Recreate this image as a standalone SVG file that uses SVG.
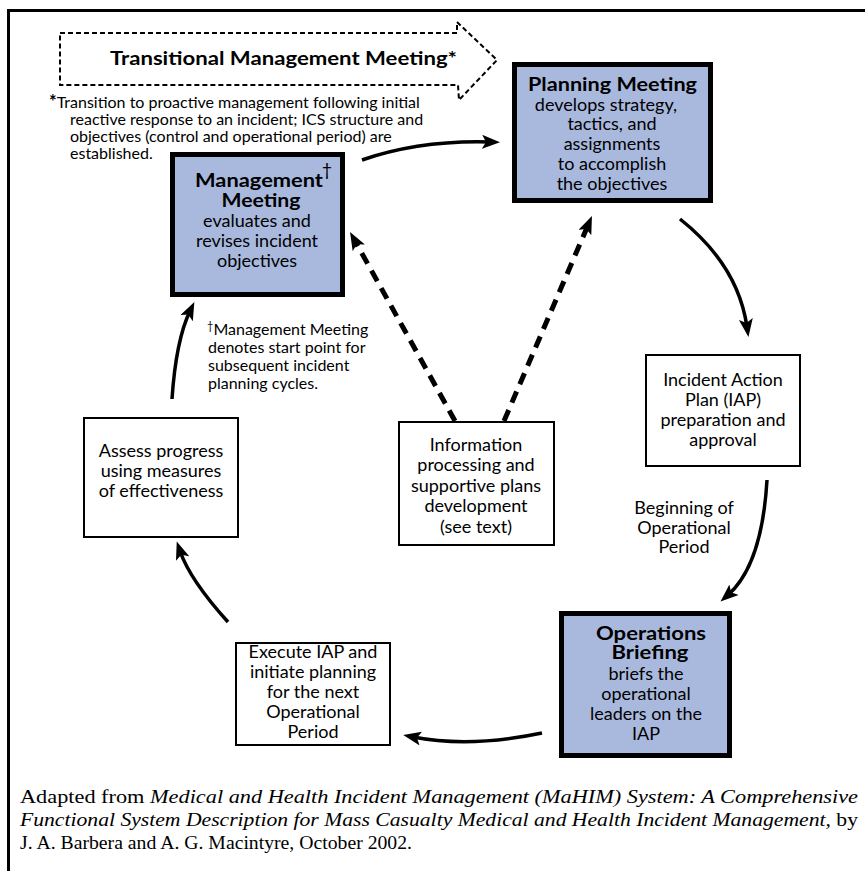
<svg xmlns="http://www.w3.org/2000/svg" width="865" height="871" viewBox="0 0 865 871">
<style>
.t{font-family:Lato,"Open Sans","Liberation Sans",sans-serif;font-size:18px;fill:#000;text-anchor:middle}
.b{font-weight:bold;font-size:19px}
.fn{font-family:Lato,"Open Sans","Liberation Sans",sans-serif;font-size:16px;fill:#000}
.blue{fill:#a9b9dd;stroke:#000;stroke-width:5}
.white{fill:#fff;stroke:#000;stroke-width:2}
.conn{fill:none;stroke:#000;stroke-width:3.5}
.dash{fill:none;stroke:#000;stroke-width:5;stroke-dasharray:12,8}
.cap{font-family:"Liberation Serif","DejaVu Serif",serif;font-size:19.5px;fill:#000}
</style>
<defs>
<marker id="ah" markerUnits="userSpaceOnUse" markerWidth="20" markerHeight="16" refX="8" refY="7" orient="auto">
<path d="M0,0 L18,7 L0,14 L4,7 Z" fill="#000"/>
</marker>
</defs>
<rect width="865" height="871" fill="#fff"/>
<g id="frame">
<line x1="7" y1="10.5" x2="865" y2="10.5" stroke="#000" stroke-width="3"/>
<line x1="8.5" y1="9" x2="8.5" y2="871" stroke="#000" stroke-width="3"/>
</g>
<g id="transitional">
<path d="M60,33 H457 V22 L497,60 L459,100 L458,85 H60 Z" fill="none" stroke="#000" stroke-width="2" stroke-dasharray="5,3"/>
<text class="t b" x="283.5" y="65" font-size="19.5" textLength="347" lengthAdjust="spacingAndGlyphs">Transitional Management Meeting*</text>
<text class="fn" x="49" y="108"><tspan font-weight="bold" font-size="18">*</tspan>Transition to proactive management following initial</text>
<text class="fn" x="70" y="125">reactive response to an incident; ICS structure and</text>
<text class="fn" x="70" y="142">objectives (control and operational period) are</text>
<text class="fn" x="70" y="159">established.</text>
</g>
<g id="connectors">
<path class="conn" d="M362,160 Q420,140 490,142" marker-end="url(#ah)"/>
<path class="conn" d="M680,219 Q738,265 747,327" marker-end="url(#ah)"/>
<path class="conn" d="M767,480 Q762,565 728,595" marker-end="url(#ah)"/>
<path class="conn" d="M542,733 Q470,748 413,737" marker-end="url(#ah)"/>
<path class="conn" d="M228,622 Q190,580 180,551" marker-end="url(#ah)"/>
<path class="conn" d="M172,399 Q176,340 190,311" marker-end="url(#ah)"/>
<path class="dash" d="M455,421 L354.9,240.8" marker-end="url(#ah)"/>
<path class="dash" d="M504,421 L588,225.2" marker-end="url(#ah)"/>
</g>
<g id="management">
<rect class="blue" x="172.5" y="154.5" width="170" height="140"/>
<text class="t b" x="259" y="187" textLength="128" lengthAdjust="spacingAndGlyphs">Management</text>
<text class="t" x="327" y="176" font-size="11">†</text>
<text class="t b" x="261" y="207" textLength="79" lengthAdjust="spacingAndGlyphs">Meeting</text>
<text class="t" x="257" y="227">evaluates and</text>
<text class="t" x="257" y="247">revises incident</text>
<text class="t" x="257" y="267">objectives</text>
</g>
<g id="footnote2">
<text class="fn" x="207" y="335"><tspan font-size="11" dy="-5">†</tspan><tspan dy="5">Management Meeting</tspan></text>
<text class="fn" x="208" y="353">denotes start point for</text>
<text class="fn" x="208" y="371">subsequent incident</text>
<text class="fn" x="208" y="389">planning cycles.</text>
</g>
<g id="planning">
<rect class="blue" x="514.5" y="64.5" width="196" height="136"/>
<text class="t b" x="612.5" y="91" textLength="169" lengthAdjust="spacingAndGlyphs">Planning Meeting</text>
<text class="t" x="606" y="111">develops strategy,</text>
<text class="t" x="612" y="130">tactics, and</text>
<text class="t" x="612" y="150">assignments</text>
<text class="t" x="612" y="170">to accomplish</text>
<text class="t" x="612" y="190">the objectives</text>
</g>
<g id="iap">
<rect class="white" x="646" y="355" width="154" height="111"/>
<text class="t" x="723" y="386">Incident Action</text>
<text class="t" x="723" y="406">Plan (IAP)</text>
<text class="t" x="723" y="426">preparation and</text>
<text class="t" x="723" y="446">approval</text>
</g>
<g id="beginning">
<text class="t" x="684" y="514">Beginning of</text>
<text class="t" x="684" y="534">Operational</text>
<text class="t" x="684" y="553">Period</text>
</g>
<g id="operations">
<rect class="blue" x="561.5" y="613.5" width="168" height="142"/>
<text class="t b" x="651" y="640" textLength="110" lengthAdjust="spacingAndGlyphs">Operations</text>
<text class="t b" x="650" y="659" textLength="77" lengthAdjust="spacingAndGlyphs">Briefing</text>
<text class="t" x="646" y="680">briefs the</text>
<text class="t" x="646" y="700">operational</text>
<text class="t" x="646" y="720">leaders on the</text>
<text class="t" x="646" y="740">IAP</text>
</g>
<g id="execute">
<rect class="white" x="236" y="643" width="154" height="102"/>
<text class="t" x="313" y="658">Execute IAP and</text>
<text class="t" x="313" y="678">initiate planning</text>
<text class="t" x="313" y="698">for the next</text>
<text class="t" x="313" y="718">Operational</text>
<text class="t" x="313" y="738">Period</text>
</g>
<g id="assess">
<rect class="white" x="84" y="418" width="154" height="119"/>
<text class="t" x="161" y="457">Assess progress</text>
<text class="t" x="161" y="477">using measures</text>
<text class="t" x="161" y="497">of effectiveness</text>
</g>
<g id="info">
<rect class="white" x="399" y="422" width="155" height="123"/>
<text class="t" x="476" y="451">Information</text>
<text class="t" x="476" y="471">processing and</text>
<text class="t" x="476" y="492">supportive plans</text>
<text class="t" x="476" y="512">development</text>
<text class="t" x="476" y="533">(see text)</text>
</g>
<g id="caption">
<text class="cap" x="20" y="803" textLength="838" lengthAdjust="spacingAndGlyphs">Adapted from <tspan font-style="italic">Medical and Health Incident Management (MaHIM) System: A Comprehensive</tspan></text>
<text class="cap" x="20" y="826" textLength="838" lengthAdjust="spacingAndGlyphs"><tspan font-style="italic">Functional System Description for Mass Casualty Medical and Health Incident Management,</tspan> by</text>
<text class="cap" x="20" y="849" textLength="392" lengthAdjust="spacingAndGlyphs">J. A. Barbera and A. G. Macintyre, October 2002.</text>
</g>
</svg>
